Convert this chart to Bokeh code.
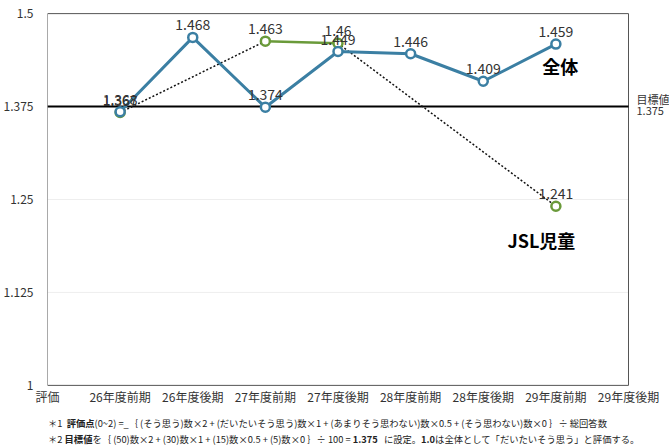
from bokeh.plotting import figure
from bokeh.models import ColumnDataSource, LabelSet, Label, FixedTicker, Div
from bokeh.layouts import column
from bokeh.embed import file_html
from bokeh.resources import INLINE
from bokeh.core.properties import value

categories = ["評価", "26年度前期", "26年度後期", "27年度前期", "27年度後期",
              "28年度前期", "28年度後期", "29年度前期", "29年度後期"]
zentai = [None, 1.368, 1.468, 1.374, 1.449, 1.446, 1.409, 1.459, None]
jsl = [None, 1.367, None, 1.463, 1.46, None, None, 1.241, None]
target = 1.375
y_ticks = [1, 1.125, 1.25, 1.375, 1.5]
y_tick_labels = ["1", "1.125", "1.25", "1.375", "1.5"]
grid_values = [1.125, 1.25]

FONT = "Noto Sans CJK JP"
BLUE = "#3b7fa3"
GREEN = "#6a9a3a"

n = len(categories) - 1
ymin, ymax = y_ticks[0], y_ticks[-1]
eps = 0.0015
W, LEFT, RIGHT_PAD = 669, 47, 41
unit = (W - LEFT - RIGHT_PAD) / n
xmax = n + RIGHT_PAD / unit

p = figure(width=W, height=407, x_range=(0, xmax), y_range=(ymin - eps, ymax + eps),
           output_backend="svg", toolbar_location=None,
           min_border_left=LEFT, min_border_right=0, min_border_top=12, min_border_bottom=20)
p.outline_line_color = None
p.background_fill_color = "white"
p.border_fill_color = "white"

# axes
p.yaxis.ticker = FixedTicker(ticks=y_ticks)
p.yaxis.major_label_overrides = {t: l for t, l in zip(y_ticks, y_tick_labels)}
p.yaxis.axis_line_color = None
p.yaxis.major_tick_line_color = None
p.yaxis.minor_tick_line_color = None
p.yaxis.major_tick_out = 0
p.yaxis.major_tick_in = 0
p.yaxis.major_label_standoff = 14
p.yaxis.major_label_text_font = FONT
p.yaxis.major_label_text_font_size = "12px"
p.yaxis.major_label_text_color = "#333333"

p.xaxis.ticker = FixedTicker(ticks=list(range(len(categories))))
p.xaxis.major_label_overrides = {i: c for i, c in enumerate(categories)}
p.xaxis.axis_line_color = None
p.xaxis.major_tick_line_color = None
p.xaxis.minor_tick_line_color = None
p.xaxis.major_tick_out = 0
p.xaxis.major_tick_in = 0
p.xaxis.major_label_standoff = 1
p.xaxis.major_label_text_font = FONT
p.xaxis.major_label_text_font_size = "12px"
p.xaxis.major_label_text_color = "#333333"

p.xgrid.grid_line_color = None
p.ygrid.grid_line_color = None

# light grid lines and plot-area border
p.segment(x0=[0] * len(grid_values), y0=grid_values, x1=[n] * len(grid_values), y1=grid_values,
          line_color="#eeeeee", line_width=1)
p.line([0, n, n, 0, 0], [ymin, ymin, ymax, ymax, ymin], line_color="#555555", line_width=1)

# target line
p.line([0, n], [target, target], line_color="black", line_width=2)
p.add_layout(Label(x=n, y=target, x_offset=8, y_offset=0, text="目標値", text_font=FONT,
                   text_font_size="11px", text_color="#333333", text_baseline="bottom"))
p.add_layout(Label(x=n, y=target, x_offset=8, y_offset=0, text="1.375", text_font=FONT,
                   text_font_size="11px", text_color="#333333", text_baseline="top"))

# JSL series: solid between consecutive values, dotted across gaps
jx = [i for i, v in enumerate(jsl) if v is not None]
jy = [jsl[i] for i in jx]
for a, b in zip(jx[:-1], jx[1:]):
    if b - a == 1:
        p.line([a, b], [jsl[a], jsl[b]], line_color=GREEN, line_width=2.5)
    else:
        p.line([a, b], [jsl[a], jsl[b]], line_color="#111111", line_width=1.5, line_dash="2 2")

# 全体 series
zx = [i for i, v in enumerate(zentai) if v is not None]
zy = [zentai[i] for i in zx]
p.line(zx, zy, line_color=BLUE, line_width=3)

jsrc = ColumnDataSource(dict(x=jx, y=jy, t=[f"{v:g}" for v in jy]))
zsrc = ColumnDataSource(dict(x=zx, y=zy, t=[f"{v:g}" for v in zy]))
p.scatter("x", "y", source=jsrc, size=9, marker="circle", fill_color="white",
          line_color=GREEN, line_width=2.5)
p.scatter("x", "y", source=zsrc, size=9, marker="circle", fill_color="white",
          line_color=BLUE, line_width=2.5)

for src in (zsrc, jsrc):
    p.add_layout(LabelSet(x="x", y="y", text="t", source=src, y_offset=7,
                          text_align="center", text_baseline="bottom",
                          text_font=value(FONT), text_font_size="14px", text_color="#333333"))

p.add_layout(Label(x=7.06, y=1.43, text="全体", text_font=FONT, text_font_size="18px",
                   text_font_style="bold", text_color="black", text_align="center",
                   text_baseline="middle"))
p.add_layout(Label(x=6.8, y=1.195, text="JSL児童", text_font=FONT, text_font_size="18px",
                   text_font_style="bold", text_color="black", text_align="center",
                   text_baseline="middle"))

note = (
    '<div style="font-family:\'Noto Sans CJK JP\';font-size:9.3px;color:#222;line-height:16px;'
    'padding-left:48px;padding-top:8px;white-space:nowrap;">'
    '＊1&nbsp;&nbsp;<b>評価点</b>(0~2) =_｛ (そう思う)数×2 + (だいたいそう思う)数×1 + '
    '(あまりそう思わない)数×0.5 + (そう思わない)数×0 ｝÷ 総回答数<br>'
    '＊2 <b>目標値</b>を｛ (50)数×2 + (30)数×1 + (15)数×0.5 + (5)数×0 ｝÷ 100 = '
    '<b>1.375</b>&nbsp;&nbsp; に設定。<b>1.0</b>は全体として「だいたいそう思う」と評価する。'
    '</div>'
)
div = Div(text=note, width=669, height=41, margin=(0, 0, 0, 0))

layout = column(p, div, spacing=0)
open("out.html", "w").write(file_html(layout, INLINE))
